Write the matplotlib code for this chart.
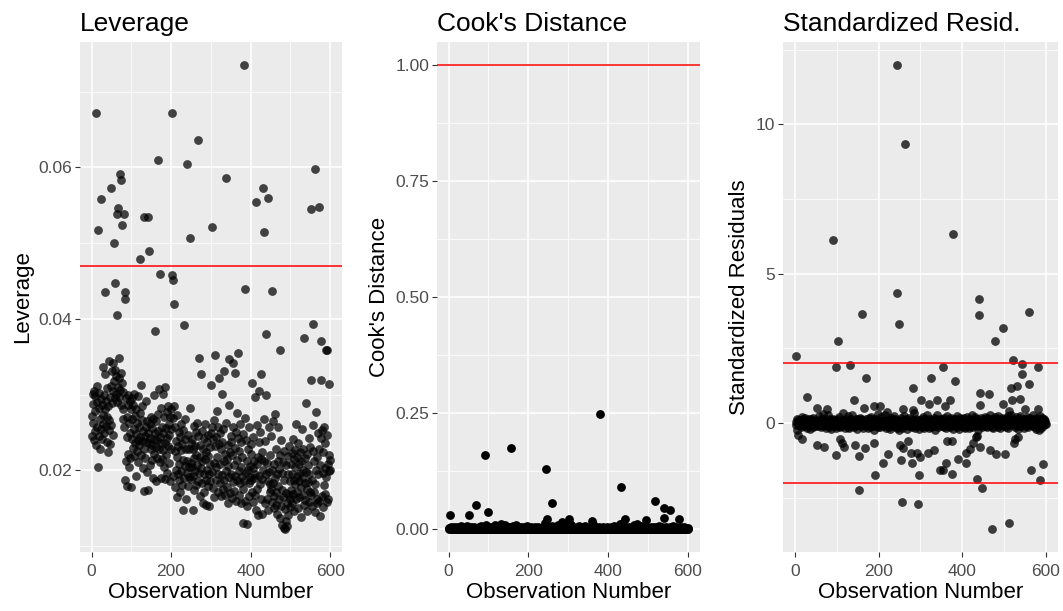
import numpy as np
import matplotlib.pyplot as plt
from matplotlib.ticker import MultipleLocator, FormatStrFormatter

plt.rcParams['font.family'] = ['Liberation Sans', 'DejaVu Sans']

# leverage (hat values), units of 1e-4, observation 1..600
lev_base = [
    272, 245, 301, 288, 263, 240, 305, 279, 252, 298, 266, 234, 290, 311, 258, 205, 275, 246, 302, 283,
    229, 268, 294, 255, 318, 241, 287, 262, 336, 273, 249, 300, 214, 281, 327, 259, 292, 238, 309, 270,
    224, 285, 253, 344, 266, 297, 235, 278, 312, 260,
    289, 331, 247, 305, 342, 276, 318, 296, 333, 264, 301, 325, 282, 339, 291, 310, 255, 322, 297, 348,
    273, 306, 286, 329, 242, 299, 315, 268, 304, 281, 193, 258, 300, 227, 187, 296, 213, 271, 180, 244,
    299, 222, 286, 205, 263, 292, 217, 249, 178, 281,
    296, 242, 268, 230, 287, 219, 255, 301, 236, 272, 193, 248, 281, 226, 263, 240, 298, 211, 257, 234,
    276, 189, 244, 313, 221, 266, 239, 285, 203, 252, 173, 229, 270, 245, 216, 292, 237, 258, 198, 265,
    222, 249, 174, 281, 236, 261, 207, 243, 228, 271,
    214, 256, 233, 190, 268, 241, 222, 299, 205, 250, 231, 265, 186, 240, 217, 275, 198, 252, 229, 308,
    262, 211, 244, 190, 283, 236, 215, 258, 301, 227, 249, 204, 270, 236, 189, 310, 256, 221, 277, 243,
    197, 285, 232, 262, 210, 247, 271, 186, 229, 281,
    255, 214, 236, 269, 193, 247, 212, 285, 178, 226, 258, 201, 239, 165, 218, 273, 196, 232, 251, 187,
    209, 244, 172, 227, 262, 199, 235, 181, 253, 214, 148, 221, 190, 242, 206, 268, 163, 229, 197, 255,
    213, 180, 247, 204, 229, 192, 283, 168, 236, 210,
    189, 241, 205, 148, 228, 193, 259, 216, 174, 232, 199, 251, 181, 221, 263, 207, 338, 186, 245, 349,
    197, 218, 166, 233, 203, 327, 184, 252, 212, 157, 229, 195, 243, 171, 215, 262, 188, 224, 155, 237,
    201, 247, 180, 219, 196, 153, 231, 209, 186, 249,
    313, 226, 198, 257, 177, 241, 210, 266, 165, 232, 352, 204, 244, 188, 279, 218, 171, 258, 196, 235,
    322, 209, 183, 249, 166, 228, 301, 194, 237, 175, 255, 212, 187, 331, 222, 168, 243, 199, 263, 215,
    178, 234, 157, 206, 287, 191, 347, 224, 170, 245,
    196, 238, 164, 221, 342, 185, 258, 207, 173, 329, 230, 193, 251, 160, 214, 276, 188, 243, 355, 199,
    168, 226, 184, 262, 205, 157, 237, 193, 218, 175, 248, 131, 209, 186, 269, 160, 224, 197, 240, 178,
    212, 153, 200, 229, 184, 258, 166, 206, 191, 235,
    187, 222, 171, 316, 203, 158, 244, 190, 212, 168, 297, 195, 229, 148, 208, 260, 176, 218, 141, 237,
    193, 305, 182, 251, 162, 215, 327, 189, 143, 224, 201, 170, 268, 185, 213, 157, 239, 196, 175, 299,
    210, 163, 232, 186, 148, 257, 198, 172, 220, 182,
    246, 176, 201, 159, 219, 183, 265, 166, 208, 150, 274, 190, 171, 229, 155, 196, 143, 213, 180, 258,
    162, 202, 137, 221, 186, 153, 240, 174, 197, 128, 211, 165, 188, 124, 226, 149, 192, 170, 133, 207,
    183, 157, 219, 141, 195, 168, 232, 152, 186, 163,
    208, 174, 223, 157, 196, 241, 169, 215, 188, 147, 227, 182, 204, 162, 262, 193, 171, 218, 150, 236,
    186, 209, 165, 224, 197, 139, 213, 178, 255, 190, 168, 229, 201, 154, 274, 183, 216, 161, 198, 289,
    176, 222, 146, 207, 185, 243, 158, 196, 231, 172,
    205, 168, 248, 187, 153, 226, 194, 260, 171, 212, 145, 239, 182, 201, 277, 163, 218, 157, 195, 250,
    176, 229, 160, 207, 140, 243, 188, 216, 253, 166, 197, 224, 152, 181, 258, 203, 169, 236, 191, 215,
    158, 247, 184, 209, 163, 221, 199, 175, 214, 200,
]
lev_obs = [11, 17, 25, 48, 33, 56, 60, 63, 67, 71, 75, 76, 81, 83, 84, 64, 122, 133, 141, 144,
           159, 167, 171, 202, 203, 206, 207, 232, 240, 248, 267, 302, 337, 383, 387, 413, 432, 434,
           443, 455, 439, 475, 535, 557, 553, 571, 562, 577, 590, 593, 598, 551, 578, 390, 487, 491]
lev_val = [0.0672, 0.0517, 0.0558, 0.0573, 0.0436, 0.0500, 0.0448, 0.0538, 0.0547, 0.0591,
           0.0584, 0.0524, 0.0538, 0.0435, 0.0426, 0.0405, 0.0479, 0.0535, 0.0535, 0.0490,
           0.0384, 0.0610, 0.0460, 0.0672, 0.0458, 0.0451, 0.0420, 0.0392, 0.0604, 0.0507,
           0.0636, 0.0522, 0.0586, 0.0735, 0.0439, 0.0555, 0.0573, 0.0515, 0.0560, 0.0437,
           0.0380, 0.0359, 0.0375, 0.0393, 0.0545, 0.0548, 0.0598, 0.0371, 0.0359, 0.0359,
           0.0314, 0.0320, 0.0320, 0.0129, 0.0123, 0.0127]

# Cook's distance, units of 1e-3
cook_base = [
    1, 0, 2, 0, 0, 3, 1, 0, 0, 2, 0, 1, 0, 4, 0, 0, 2, 1, 0, 0, 3, 0, 0, 1, 0, 2, 0, 0, 1, 5, 0, 0, 2, 0, 1, 0, 0, 3, 0, 1, 0, 2, 0, 0, 1, 0, 6, 0, 0, 2,
    0, 1, 0, 0, 3, 0, 2, 0, 0, 1, 0, 0, 4, 0, 1, 0, 0, 2, 0, 7, 0, 1, 0, 0, 2, 0, 3, 0, 0, 1, 0, 5, 0, 0, 2, 0, 1, 0, 0, 3, 0, 0, 1, 9, 0, 2, 0, 0, 1, 0,
    2, 0, 0, 1, 0, 3, 0, 0, 4, 0, 1, 0, 2, 0, 0, 8, 0, 1, 0, 0, 3, 0, 2, 0, 0, 1, 0, 0, 5, 0, 10, 0, 1, 0, 2, 0, 0, 3, 0, 1, 0, 9, 0, 0, 2, 0, 1, 0, 0, 4,
    0, 1, 0, 3, 0, 0, 2, 0, 1, 0, 0, 6, 0, 0, 1, 0, 2, 0, 0, 9, 0, 3, 0, 1, 0, 0, 2, 0, 0, 1, 4, 0, 0, 2, 0, 1, 0, 0, 3, 0, 0, 1, 0, 2, 0, 0, 5, 0, 1, 0,
    0, 2, 0, 0, 1, 0, 3, 0, 0, 1, 0, 0, 2, 0, 0, 1, 4, 0, 0, 2, 0, 1, 0, 0, 3, 0, 0, 1, 0, 0, 2, 0, 1, 0, 0, 3, 0, 0, 1, 0, 2, 12, 0, 0, 8, 10, 0, 1, 0, 2,
    0, 3, 0, 1, 0, 0, 2, 0, 6, 0, 1, 0, 0, 2, 0, 0, 4, 0, 1, 0, 0, 3, 0, 0, 8, 0, 1, 0, 2, 0, 0, 1, 0, 10, 0, 0, 2, 0, 1, 0, 0, 3, 0, 7, 0, 1, 0, 0, 2, 0,
    1, 0, 0, 11, 0, 2, 0, 8, 0, 0, 1, 0, 3, 0, 0, 2, 0, 1, 0, 0, 4, 0, 0, 1, 0, 2, 0, 6, 0, 0, 1, 0, 3, 0, 0, 2, 0, 1, 0, 0, 5, 0, 0, 1, 0, 2, 0, 0, 1, 0,
    0, 2, 0, 1, 0, 0, 3, 0, 9, 0, 11, 0, 2, 0, 0, 1, 0, 4, 0, 0, 2, 0, 1, 0, 0, 3, 0, 0, 1, 12, 0, 2, 0, 0, 1, 0, 0, 3, 0, 1, 0, 0, 2, 0, 0, 1, 0, 4, 0, 0,
    2, 0, 0, 1, 0, 3, 0, 0, 1, 0, 2, 0, 0, 5, 0, 1, 0, 0, 2, 0, 0, 3, 0, 1, 0, 0, 2, 0, 7, 10, 0, 4, 0, 1, 0, 0, 2, 12, 0, 0, 1, 0, 3, 0, 0, 1, 0, 2, 0, 0,
    1, 0, 3, 0, 0, 2, 0, 1, 0, 0, 4, 0, 0, 8, 0, 1, 0, 2, 0, 0, 3, 0, 10, 0, 1, 0, 0, 2, 0, 0, 1, 0, 5, 0, 0, 2, 0, 1, 0, 0, 3, 0, 0, 1, 11, 0, 2, 0, 0, 1,
    0, 2, 0, 0, 1, 0, 3, 0, 0, 2, 0, 1, 0, 0, 4, 0, 2, 0, 0, 1, 0, 0, 3, 0, 0, 6, 0, 1, 0, 0, 2, 0, 0, 1, 0, 3, 0, 0, 2, 0, 1, 0, 0, 4, 0, 0, 1, 0, 2, 0,
    0, 1, 0, 3, 0, 0, 2, 0, 1, 0, 0, 5, 0, 0, 1, 0, 2, 0, 0, 3, 0, 1, 0, 0, 2, 0, 0, 8, 0, 1, 0, 0, 4, 0, 0, 2, 0, 1, 0, 0, 3, 0, 1, 0, 0, 2, 0, 0, 1, 0,
]
cook_obs = [4, 50, 70, 92, 100, 157, 245, 260, 380, 432, 516, 539, 556, 540, 578,
            246, 301, 443, 495, 284, 360]
cook_val = [0.030, 0.030, 0.052, 0.159, 0.037, 0.175, 0.130, 0.056, 0.247, 0.090, 0.061,
            0.044, 0.040, 0.023, 0.021, 0.021, 0.021, 0.021, 0.018, 0.015, 0.017]

# standardized residuals, units of 1e-2
res_base = [
    -8, 5, -12, 3, 15, -4, 9, -18, 2, -6, 11, -2, 7, -14, 4, 20, -9, 1, -5, 13, -11, 6, -3, 17, -7, 0, 10, -15, 8, -1, 3, -10, 14, -6, 5, -20, 9, -3, 12, -8, 2, 6, -13, 18, -4, 1, -9, 7, -2, 11,
    4, -7, 16, -11, 2, 8, -5, 25, -3, 9, -14, 6, 1, -8, 13, -2, 30, -10, 5, -6, 12, -1, 7, -16, 3, 10, -4, 28, -9, 0, 6, -12, 15, -3, 8, -20, 2, 11, -7, 4, -1, 14, -10, 5, -5, 9, -15, 19, -2, 7,
    -6, 3, 12, -9, 21, -4, 8, -13, 1, 6, -11, 17, -2, 9, -7, 35, -5, 2, -16, 10, 4, -8, 14, -1, 7, -12, 22, -3, 5, -18, 11, -6, 0, 13, -9, 3, 26, -4, 8, -14, 6, -2, 10, -10, 15, 1, -7, 4, -20, 12,
    -3, 9, -12, 5, 18, -6, 2, -9, 14, -1, 7, -15, 10, 3, -5, 24, -8, 6, -2, 12, -11, 1, 8, -17, 4, 16, -4, 9, -13, 0, 5, -7, 20, -10, 3, -3, 13, -6, 7, -22, 11, -1, 2, -9, 15, -4, 6, 32, -12, 8,
    1, -5, 10, -14, 6, 19, -3, 8, -8, 2, 13, -11, 4, -6, 27, -2, 9, -16, 5, 0, -9, 14, -4, 7, -13, 11, 3, -20, 16, -1, 6, -7, 12, -10, 2, 22, -5, 8, -3, 15, -12, 4, -18, 10, 1, -6, 9, -24, 13, -2,
    7, -10, 3, 18, -5, 11, -15, 2, 6, -8, 25, -3, 9, -12, 4, 14, -6, 1, -19, 10, -2, 8, -11, 16, -4, 5, -9, 21, 0, -14, 12, -7, 3, 33, -1, 6, -16, 9, -5, 13, -10, 2, 17, -8, 4, -3, 11, -21, 7, 1,
    -4, 9, 15, -12, 3, -7, 20, -2, 8, -15, 12, 1, -9, 6, 26, -5, 10, -11, 4, -18, 14, -1, 7, -6, 19, -13, 2, 11, -8, 5, -3, 16, -10, 0, 9, -22, 13, -4, 6, -7, 28, -14, 3, 10, -2, 8, -17, 12, -5, 4,
    2, -9, 14, -4, 7, 18, -12, 5, -1, 11, -16, 3, 9, -7, 22, -3, 6, -10, 13, 0, -14, 8, -5, 17, -2, 10, -8, 4, -19, 12, 1, -11, 15, -6, 7, -3, 24, -13, 5, 9, -1, -20, 11, -4, 6, 16, -9, 2, -6, 13,
    -7, 10, 3, -12, 17, -2, 8, -15, 5, 12, -4, 21, -9, 1, -6, 14, -18, 7, 4, -10, 11, -3, 26, -13, 6, 9, -25, 2, -8, 15, -5, 19, -30, 3, -11, 8, -1, 13, -22, 5, 10, -16, 6, -4, 18, -7, 2, -12, 9, 0,
    4, -8, 13, -3, 20, -11, 6, -1, 9, -14, 16, -5, 2, -9, 11, 27, -6, 7, -2, 14, -12, 3, 8, -17, 5, 12, -4, 19, -10, 1, -7, 15, -3, 10, -13, 6, 23, -1, 4, -8, 12, -15, 2, 9, -5, 17, -11, 7, -2, 10,
    -9, 14, 3, -6, 18, -12, 5, 9, -3, 22, -15, 7, 1, -8, 13, -4, 26, -10, 6, -1, 11, -17, 4, 15, -7, 2, -13, 10, 19, -5, 8, -2, 12, -20, 3, 16, -9, 6, -4, 24, -11, 1, 9, -14, 7, 13, -6, 3, -18, 11,
    5, -3, 12, -10, 21, -6, 2, 8, -13, 15, -1, 9, -7, 18, -16, 4, 11, -4, 27, -9, 6, -2, 14, -12, 3, 10, -20, 7, 16, -5, 1, -11, 13, -3, 8, 22, -8, 5, -15, 11, -1, 17, -6, 3, -10, 9, 14, -4, 6, -2,
]
res_obs = [245, 264, 91, 378, 244, 249, 161, 440, 441, 560, 497, 479, 102, 3, 98, 132, 355, 522,
           543, 582, 544, 561, 171, 282, 325, 382, 518, 532, 443, 465, 29, 142, 539, 519, 340, 370,
           302, 322, 498, 444, 360, 52, 166, 188, 203, 76, 283, 583, 552, 513, 258, 221,
           4, 8, 17, 53, 70, 107, 112, 118, 99, 143, 153, 168, 189, 211, 222, 192, 154, 252, 259,
           253, 270, 278, 279, 293, 300, 296, 256, 294, 319, 334, 347, 354, 362, 376, 363, 377,
           390, 409, 410, 419, 427, 433, 436, 449, 468, 481, 502, 473, 512, 524, 533, 565, 588,
           593, 526, 442, 437, 584]
res_val = [11.98, 9.34, 6.12, 6.32, 4.34, 3.33, 3.66, 4.14, 3.62, 3.71, 3.18, 2.75, 2.75, 2.23,
           1.89, 1.93, 1.89, 2.12, 1.98, 1.89, 1.64, 1.30, 1.51, 1.17, 1.51, 1.41, 1.17, 1.24,
           1.02, 0.98, 0.87, 0.78, 0.82, 0.78, 0.78, 0.78, 0.76, 0.63, 0.63, 0.59, 0.56, 0.49,
           0.52, 0.56, 0.56, 0.46, 0.43, 0.46, 0.46, 0.40, 0.46, 0.36,
           -0.22, -0.39, -0.55, -0.74, -0.81, -0.55, -0.68, -0.81, -1.07, -0.74, -1.10, -0.83,
           -0.68, -1.35, -1.04, -1.74, -2.24, -0.74, -0.83, -1.22, -0.61, -1.00, -1.35, -1.00,
           -1.15, -1.74, -2.63, -2.70, -1.00, -0.91, -1.56, -1.56, -1.33, -1.72, -0.61, -0.61,
           -1.20, -1.33, -1.00, -0.87, -0.68, -0.48, -1.88, -2.19, -0.91, -1.04, -1.04, -3.54,
           -3.35, -0.68, -0.48, -1.56, -1.90, -1.38, -0.55, -0.81, -0.42, -0.22]


def build(base, scale, idx, vals):
    y = np.array(base, dtype=float) * scale
    for i, v in zip(idx, vals):
        if i <= len(y):
            y[i - 1] = v
    return np.arange(1, len(y) + 1), y


x1, leverage = build(lev_base, 1e-4, lev_obs, lev_val)
x2, cooks = build(cook_base, 1e-3, cook_obs, cook_val)
x3, resid = build(res_base, 1e-2, res_obs, res_val)

W, H = 1063, 611
TOP, BOTTOM = 42, 552
fig = plt.figure(figsize=(W / 100, H / 100), dpi=100)


def panel(left, right, x, y, hlines, title, ylabel, ymajor, yfmt, alpha):
    ax = fig.add_axes([left / W, 1 - BOTTOM / H, (right - left) / W, (BOTTOM - TOP) / H])
    ax.set_facecolor('#EBEBEB')
    for s in ax.spines.values():
        s.set_visible(False)
    ax.scatter(x, y, s=40, c='black', alpha=alpha, linewidths=0, zorder=3)
    for h in hlines:
        ax.axhline(h, color='#FF0000', lw=1.1, zorder=4)
    lo = min(y.min(), min(hlines))
    hi = max(y.max(), max(hlines))
    pad = (hi - lo) * 0.05
    ax.set_ylim(lo - pad, hi + pad)
    ax.set_xlim(1 - 599 * 0.05, 600 + 599 * 0.05)
    ax.xaxis.set_major_locator(MultipleLocator(200))
    ax.xaxis.set_minor_locator(MultipleLocator(100))
    ax.yaxis.set_major_locator(MultipleLocator(ymajor))
    ax.yaxis.set_minor_locator(MultipleLocator(ymajor / 2))
    ax.yaxis.set_major_formatter(FormatStrFormatter(yfmt))
    ax.grid(which='major', color='white', lw=1.1, zorder=0)
    ax.grid(which='minor', color='white', lw=0.55, zorder=0)
    ax.set_axisbelow(True)
    ax.tick_params(which='major', length=3.5, width=0.8, color='#333333',
                   labelcolor='#4D4D4D', labelsize=12.5)
    ax.tick_params(axis='x', pad=5)
    ax.tick_params(axis='y', pad=2)
    ax.tick_params(which='minor', length=0)
    ax.set_title(title, loc='left', fontsize=19, pad=8)
    ax.set_xlabel('Observation Number', fontsize=16, labelpad=2)
    ax.set_ylabel(ylabel, fontsize=16, labelpad=4)
    return ax


panel(80, 342, x1, leverage, [0.047], 'Leverage', 'Leverage', 0.02, '%.2f', 0.72)
panel(437, 700, x2, cooks, [1.0], "Cook's Distance", "Cook's Distance", 0.25, '%.2f', 1.0)
panel(783, 1058, x3, resid, [2, -2], 'Standardized Resid.', 'Standardized Residuals', 5, '%g', 0.75)

fig.savefig('out.png', dpi=100)
